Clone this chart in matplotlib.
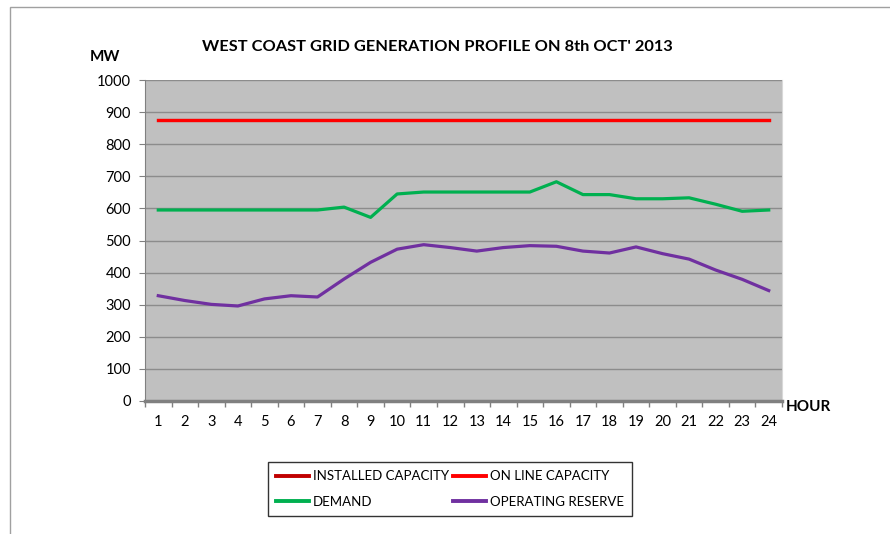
import matplotlib
matplotlib.use("Agg")
import matplotlib.pyplot as plt
from matplotlib.patches import Rectangle

plt.rcParams['font.family'] = ['Lato', 'DejaVu Sans']

hours = list(range(1, 25))
installed_capacity = [875] * 24
online_capacity = [875] * 24
demand = [595, 595, 595, 595, 595, 595, 595, 604, 572, 645, 651, 651,
          651, 651, 651, 683, 643, 643, 630, 630, 633, 613, 591, 595]
operating_reserve = [328, 313, 301, 296, 318, 328, 324, 380, 432, 473, 487, 478,
                     467, 478, 484, 482, 467, 461, 480, 459, 442, 408, 379, 344]
y_ticks = list(range(0, 1001, 100))

fig = plt.figure(figsize=(8.9, 5.34), dpi=100)
fig.patch.set_facecolor('white')

fig.patches.append(Rectangle((10/890, -0.05), 1.0, 1 - 7/534 + 0.05, transform=fig.transFigure,
                             fill=False, edgecolor='#A0A0A0', linewidth=1.0))

ax = fig.add_axes([145/890, 1 - 401/534, (782 - 145)/890, (401 - 80)/534])
ax.set_facecolor('#C0C0C0')

l1, = ax.plot(hours, installed_capacity, color='#C00000', lw=2.3, label='INSTALLED CAPACITY', zorder=3)
l2, = ax.plot(hours, online_capacity, color='#FF0000', lw=2.3, label='ON LINE CAPACITY', zorder=4)
l3, = ax.plot(hours, demand, color='#00B050', lw=2.3, label='DEMAND', zorder=3)
l4, = ax.plot(hours, operating_reserve, color='#7030A0', lw=2.3, label='OPERATING RESERVE', zorder=3)

ax.set_xlim(0.5, 24.5)
ax.set_ylim(0, 1000)
ax.set_yticks(y_ticks)
ax.set_yticklabels([str(v) for v in y_ticks], fontsize=10.5)
ax.yaxis.grid(True, color='#8C8C8C', lw=1.0)
ax.set_axisbelow(True)

ax.set_xticks(hours)
ax.set_xticklabels([str(h) for h in hours], fontsize=10.5)
ax.tick_params(axis='x', length=0, pad=10)
ax.set_xticks([h + 0.5 for h in range(0, 25)], minor=True)
ax.tick_params(axis='x', which='minor', length=4, color='#808080', width=1, direction='out')
ax.tick_params(axis='y', length=4, color='#808080', pad=6)

ax.spines['top'].set_visible(False)
ax.spines['right'].set_color('#D8D8D8')
ax.spines['left'].set_color('#808080')
ax.spines['bottom'].set_color('#808080')
ax.spines['bottom'].set_linewidth(2.5)

fig.text(437/890, 1 - 47/534, "WEST COAST GRID GENERATION PROFILE ON 8th OCT' 2013",
         ha='center', va='center', fontsize=11.8, fontweight='bold')
fig.text(105/890, 1 - 57/534, 'MW', ha='center', va='center', fontsize=11, fontweight='bold')
fig.text(786/890, 1 - 407/534, 'HOUR', ha='left', va='center', fontsize=11, fontweight='bold')

handles = [l1, l3, l2, l4]
leg = fig.legend(handles, [h.get_label() for h in handles], loc='center',
                 bbox_to_anchor=(450/890, 1 - 489/534), ncol=2,
                 fontsize=9.5, frameon=True, fancybox=False, edgecolor='black',
                 handlelength=2.5, handletextpad=0.3, columnspacing=0.3,
                 borderpad=0.6, labelspacing=1.0)
leg.get_frame().set_linewidth(1.0)
for lh in leg.get_lines():
    lh.set_linewidth(2.8)

fig.savefig('out.png', dpi=100, facecolor='white')
